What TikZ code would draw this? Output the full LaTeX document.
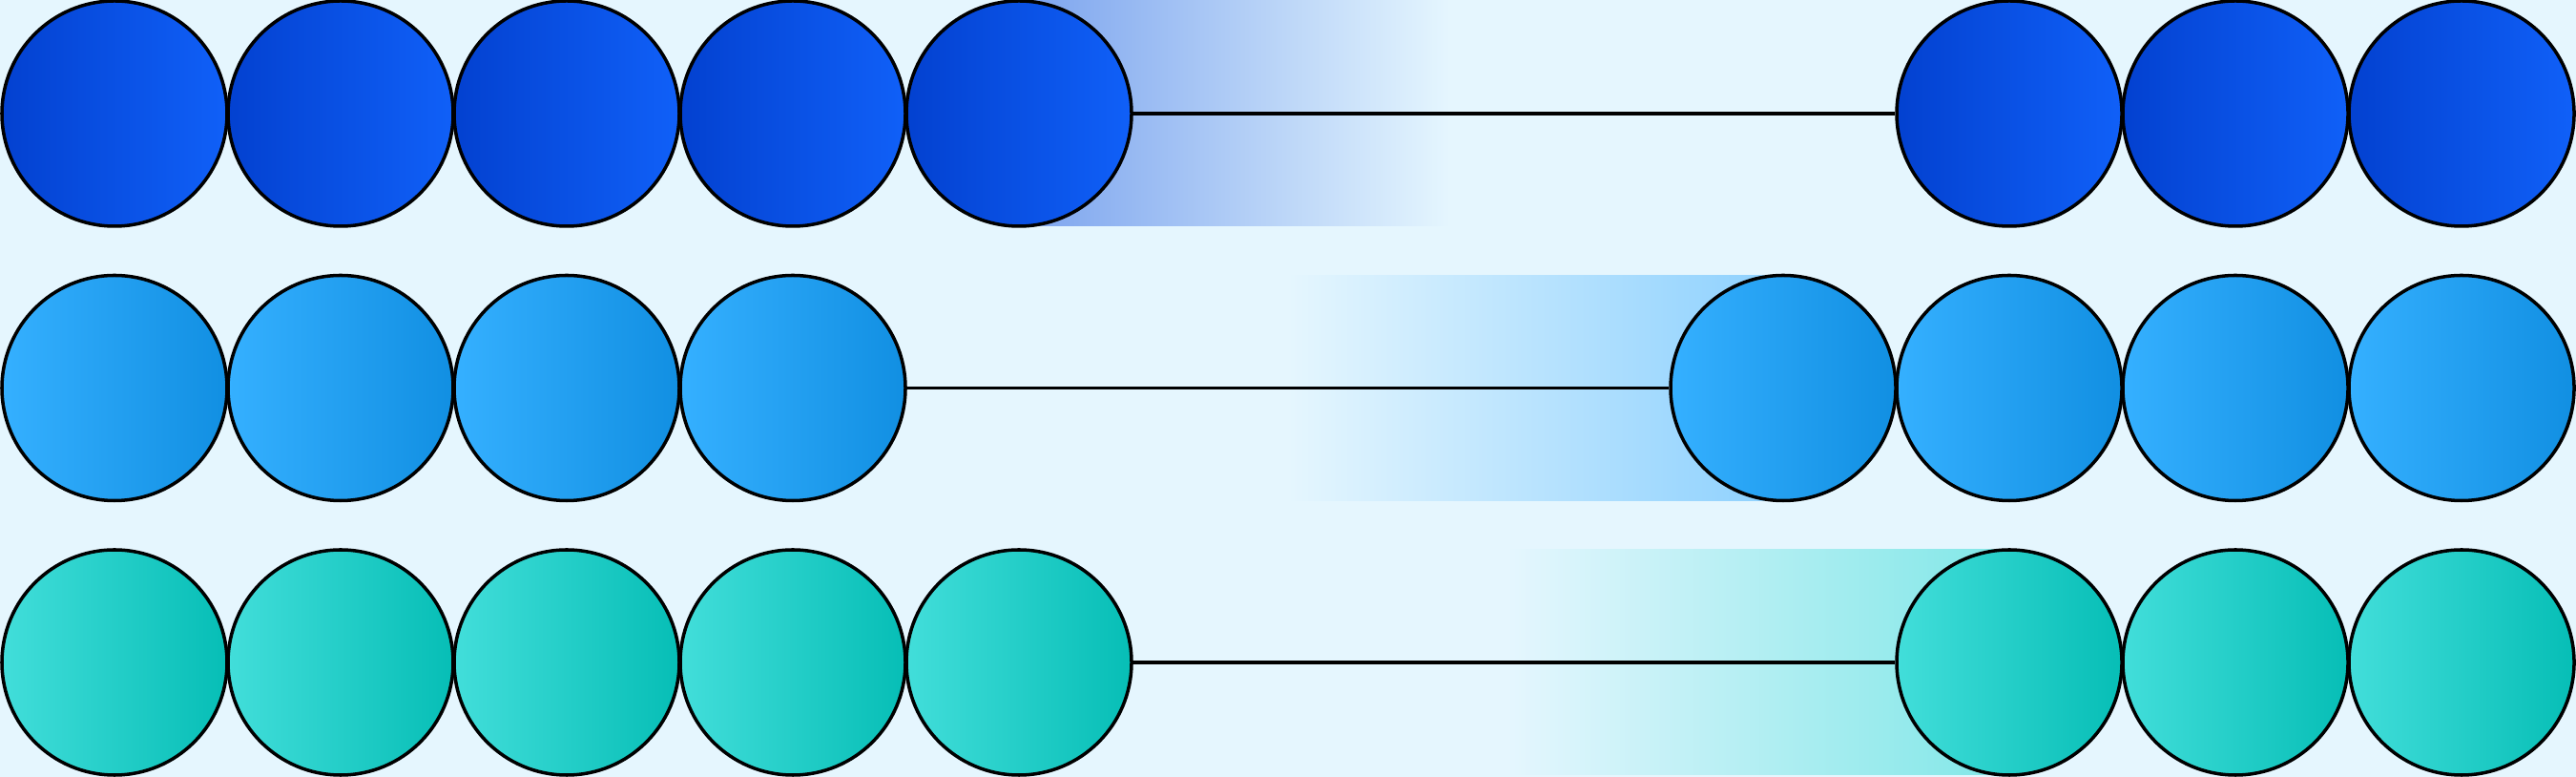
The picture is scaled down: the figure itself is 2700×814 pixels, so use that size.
\documentclass[tikz,border=0pt]{standalone}
\definecolor{bgblue}{HTML}{E5F6FE}
\definecolor{deepL}{HTML}{0341D0}
\definecolor{deepR}{HTML}{1060F8}
\definecolor{skyL}{HTML}{35B0FF}
\definecolor{skyR}{HTML}{118FE2}
\definecolor{tealL}{HTML}{42DEDA}
\definecolor{tealR}{HTML}{06BEB6}
\definecolor{deepT}{HTML}{7BA3EE}
\definecolor{skyT}{HTML}{8CD0FE}
\definecolor{tealT}{HTML}{80E7E7}
\tikzset{
    bead/.style={circle, draw=black, line width=2pt, minimum size=47.2mm, inner sep=0pt},
    deepbead/.style={bead, left color=deepL, right color=deepR},
    skybead/.style={bead, left color=skyL, right color=skyR},
    tealbead/.style={bead, left color=tealL, right color=tealR},
    rod/.style={black, line width=2pt}
}
\begin{document}
\begin{tikzpicture}[x=0.2mm, y=0.2mm]
    % background
    \fill[bgblue] (0, 0) rectangle (2700, 814);
    \useasboundingbox (0, 0) rectangle (2700, 814);
    % trails
    \shade[left color=deepT, right color=bgblue] (1068, 577) rectangle (1520, 814);
    \shade[left color=bgblue, right color=skyT] (1350, 289.5) rectangle (1873, 525.5);
    \shade[left color=bgblue, right color=tealT] (1580, 2) rectangle (2107, 238);
    % row 1
    \foreach \i in {1,...,5}
        \node[deepbead] (top\i) at ({120+237*(\i-1)}, 695) {};
    \foreach \i in {1,2,3}
        \node[deepbead] (topr\i) at ({2580-237*(3-\i)}, 695) {};
    \draw[rod] (top5) -- (topr1);
    % row 2
    \foreach \i in {1,...,4}
        \node[skybead] (mid\i) at ({120+237*(\i-1)}, 407.5) {};
    \foreach \i in {1,...,4}
        \node[skybead] (midr\i) at ({2580-237*(4-\i)}, 407.5) {};
    \draw[rod] (mid4) -- (midr1);
    % row 3
    \foreach \i in {1,...,5}
        \node[tealbead] (low\i) at ({120+237*(\i-1)}, 120) {};
    \foreach \i in {1,2,3}
        \node[tealbead] (lowr\i) at ({2580-237*(3-\i)}, 120) {};
    \draw[rod] (low5) -- (lowr1);
\end{tikzpicture}
\end{document}
